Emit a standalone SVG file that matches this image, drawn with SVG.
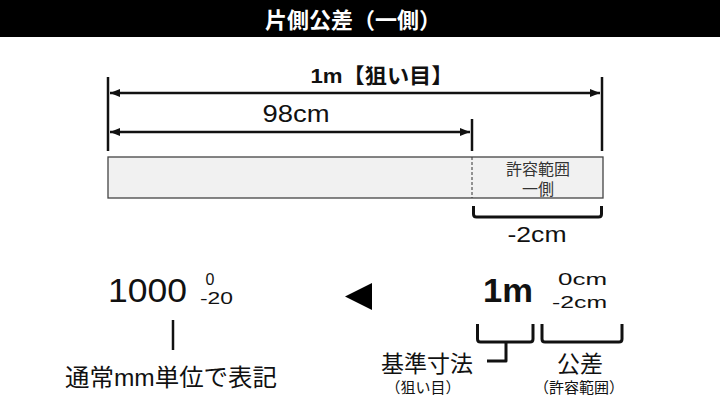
<svg xmlns="http://www.w3.org/2000/svg" width="720" height="406" viewBox="0 0 720 406">
<defs>
<style>
text{font-family:"Liberation Sans","Noto Sans CJK JP",sans-serif;fill:#111;}
.t{text-anchor:middle;}
.ln{stroke:#111;stroke-width:2.5;fill:none;}
.br{stroke:#111;stroke-width:3;fill:none;stroke-linejoin:round;}
</style>
<marker id="ah" viewBox="0 0 10 8" refX="10" refY="4" markerWidth="10" markerHeight="8" markerUnits="userSpaceOnUse" orient="auto-start-reverse">
<path d="M0,0 L10,4 L0,8 z" fill="#111"/>
</marker>
</defs>
<rect x="0" y="0" width="720" height="406" fill="#fff"/>
<g id="header">
<rect x="0" y="0" width="720" height="37" fill="#000"/>
<text x="353" y="28" class="t" style="fill:#fff;font-size:22px;font-weight:bold;">片側公差（一側）</text>
</g>
<g id="connectors">
<line class="ln" x1="108" y1="77" x2="108" y2="151"/>
<line class="ln" x1="602" y1="77" x2="602" y2="151"/>
<line class="ln" x1="472" y1="119" x2="472" y2="151"/>
<line class="ln" x1="110" y1="93" x2="600" y2="93" marker-start="url(#ah)" marker-end="url(#ah)"/>
<line class="ln" x1="110" y1="132" x2="470" y2="132" marker-start="url(#ah)" marker-end="url(#ah)"/>
<path class="br" d="M473.5,206 V214 Q473.5,217 476.5,217 H598.5 Q601.5,217 601.5,214 V206"/>
<line class="ln" x1="173" y1="320" x2="173" y2="350"/>
<path class="br" d="M477.5,324 V339 Q477.5,342 480.5,342 H530 Q533,342 533,339 V324"/>
<path class="br" d="M506,342 V361 H487"/>
<path class="br" d="M542,324 V339 Q542,342 545,342 H619 Q622,342 622,339 V324"/>
<polygon points="345,296.5 372,283 372,310" fill="#000"/>
</g>
<g id="labels-top">
<text x="382" y="83" class="t" style="font-size:21px;font-weight:bold;" textLength="143" lengthAdjust="spacingAndGlyphs">1m【狙い目】</text>
<text x="296" y="122" class="t" style="font-size:24px;" textLength="67" lengthAdjust="spacingAndGlyphs">98cm</text>
</g>
<g id="bar">
<rect x="108" y="157" width="495" height="41" fill="#f1f1f1" stroke="#444" stroke-width="1.3"/>
<line x1="472" y1="157" x2="472" y2="198" stroke="#333" stroke-width="1" stroke-dasharray="3,2"/>
<text x="538" y="175" class="t" style="font-size:16px;fill:#333;">許容範囲</text>
<text x="538" y="195" class="t" style="font-size:16px;fill:#333;">一側</text>
</g>
<g id="minus2">
<text x="537" y="242" class="t" style="font-size:22px;" textLength="59" lengthAdjust="spacingAndGlyphs">-2cm</text>
</g>
<g id="mm-notation">
<text x="108" y="302" style="font-size:34px;" textLength="79" lengthAdjust="spacingAndGlyphs">1000</text>
<text x="210" y="285" class="t" style="font-size:16px;">0</text>
<text x="200" y="304" style="font-size:16px;" textLength="33" lengthAdjust="spacingAndGlyphs">-20</text>
<text x="171" y="386" class="t" style="font-size:24px;" textLength="212" lengthAdjust="spacingAndGlyphs">通常mm単位で表記</text>
</g>
<g id="m-notation">
<text x="483" y="302" style="font-size:33px;font-weight:bold;" textLength="50" lengthAdjust="spacingAndGlyphs">1m</text>
<text x="607" y="285" style="font-size:17px;text-anchor:end;" textLength="49" lengthAdjust="spacingAndGlyphs">0cm</text>
<text x="607" y="308" style="font-size:17px;text-anchor:end;" textLength="55" lengthAdjust="spacingAndGlyphs">-2cm</text>
</g>
<g id="kijun">
<text x="427" y="372" class="t" style="font-size:23px;">基準寸法</text>
<text x="423" y="393" class="t" style="font-size:15px;">（狙い目）</text>
</g>
<g id="kousa">
<text x="580" y="372" class="t" style="font-size:23px;">公差</text>
<text x="579" y="393" class="t" style="font-size:15px;">（許容範囲）</text>
</g>
</svg>
